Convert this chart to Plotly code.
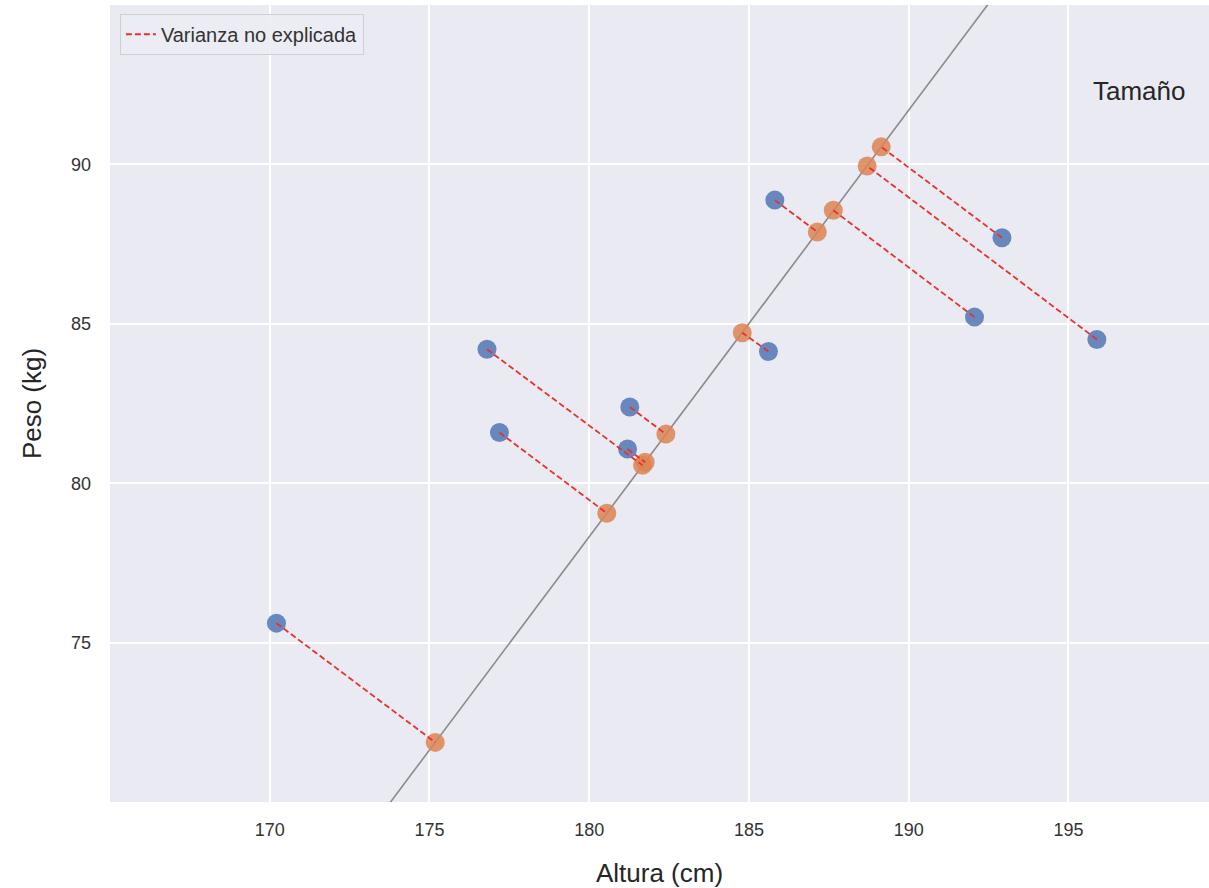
import plotly.graph_objects as go

# Observed points (blue)
altura = [170.21, 176.80, 177.19, 181.27, 181.20, 185.61, 185.81, 192.06, 192.92, 195.89]
peso = [75.61, 84.20, 81.59, 82.39, 81.07, 84.13, 88.88, 85.21, 87.70, 84.51]

# Projections onto the line (orange), same order as the observed points
altura_proy = [175.18, 181.67, 180.55, 182.40, 181.75, 184.79, 187.14, 187.64, 189.14, 188.70]
peso_proy = [71.87, 80.56, 79.06, 81.54, 80.66, 84.72, 87.88, 88.56, 90.55, 89.95]

# Reference line y = slope * x + intercept
slope = 1.338
intercept = -162.52

x_range = [165.0, 199.4]
y_range = [70.0, 95.0]
x_ticks = [170, 175, 180, 185, 190, 195]
y_ticks = [75, 80, 85, 90]

fig = go.Figure()

lx = [x_range[0], x_range[1]]
ly = [slope * v + intercept for v in lx]
fig.add_trace(go.Scatter(x=lx, y=ly, mode="lines",
                         line=dict(color="#8a8a8a", width=1.6),
                         showlegend=False, hoverinfo="skip"))

fig.add_trace(go.Scatter(x=altura, y=peso, mode="markers",
                         marker=dict(size=19, color="#4c72b0", opacity=0.82,
                                     line=dict(width=0)),
                         showlegend=False))
fig.add_trace(go.Scatter(x=altura_proy, y=peso_proy, mode="markers",
                         marker=dict(size=19, color="#dd8452", opacity=0.85,
                                     line=dict(width=0)),
                         showlegend=False))

sx, sy = [], []
for a, p, ap, pp in zip(altura, peso, altura_proy, peso_proy):
    sx += [a, ap, None]
    sy += [p, pp, None]
fig.add_trace(go.Scatter(x=sx, y=sy, mode="lines",
                         line=dict(color="#e8312f", width=1.8, dash="6px,3px"),
                         name="Varianza no explicada"))

fig.add_annotation(text="Tamaño", x=0.8925, y=0.892, xref="paper", yref="paper",
                   xanchor="left", yanchor="middle", showarrow=False,
                   font=dict(size=26, color="#262626"))

fig.update_layout(
    width=1209, height=888,
    margin=dict(l=110, r=0, t=5, b=86),
    paper_bgcolor="white",
    plot_bgcolor="#eaeaf2",
    font=dict(family="Liberation Sans, Arial, sans-serif", color="#333333"),
    legend=dict(x=0.009, y=0.989, xanchor="left", yanchor="top",
                bgcolor="rgba(236,236,244,0.9)", bordercolor="#cfcfd6",
                borderwidth=1, font=dict(size=20, color="#333333")),
    xaxis=dict(range=x_range, tickvals=x_ticks, showgrid=True,
               gridcolor="white", gridwidth=1.6, zeroline=False,
               showline=False, ticks="", ticklabelstandoff=15,
               tickfont=dict(size=18, color="#333333"),
               title=dict(text="Altura (cm)", font=dict(size=26, color="#262626"),
                          standoff=26)),
    yaxis=dict(range=y_range, tickvals=y_ticks, showgrid=True,
               gridcolor="white", gridwidth=1.6, zeroline=False,
               showline=False, ticks="", ticklabelstandoff=18,
               tickfont=dict(size=18, color="#333333"),
               title=dict(text="Peso (kg)", font=dict(size=26, color="#262626"),
                          standoff=21)),
)

fig.write_html("out.html", config={"displayModeBar": False},
               post_script="document.body.style.margin='0';")
